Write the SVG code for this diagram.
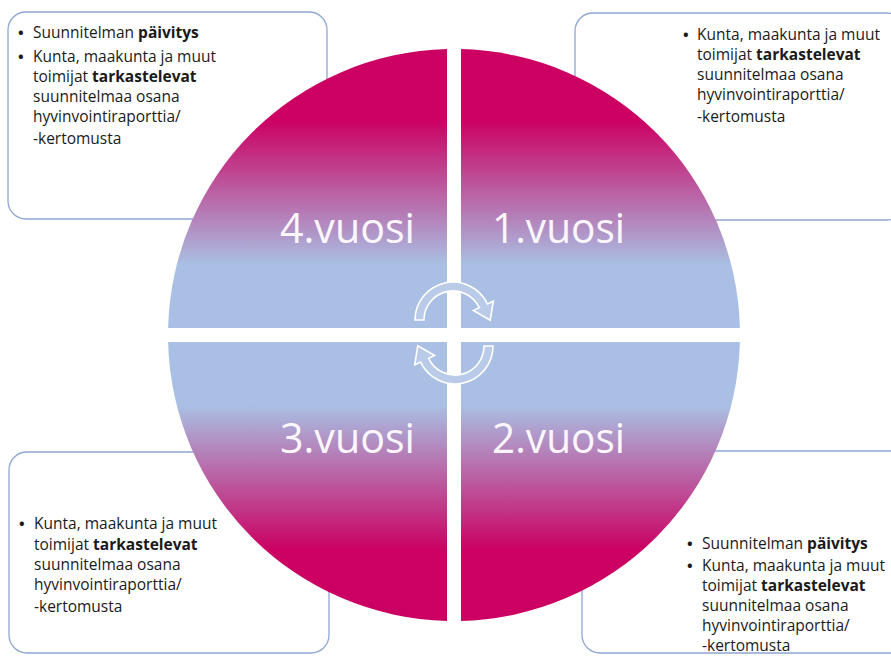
<svg xmlns="http://www.w3.org/2000/svg" width="891" height="656" viewBox="0 0 891 656">
<defs>
<linearGradient id="gTop" gradientUnits="userSpaceOnUse" x1="0" y1="120" x2="0" y2="265">
<stop offset="0" stop-color="#CB0062"/>
<stop offset="1" stop-color="#A9C0E4"/>
</linearGradient>
<linearGradient id="gBot" gradientUnits="userSpaceOnUse" x1="0" y1="405" x2="0" y2="550">
<stop offset="0" stop-color="#A9C0E4"/>
<stop offset="1" stop-color="#CB0062"/>
</linearGradient>
<path id="arrow" d="M415,320 A38,38 0 0 1 487.4,303.9 L493.3,301.2 L490.2,320.3 L473.4,310.5 L479.3,307.7 A29,29 0 0 0 424,320 Z"/>
</defs>
<style>
.box{fill:#FFFFFF;stroke:#8FA7D0;stroke-width:1.3}
.t{font-family:"Open Sans","Liberation Sans",sans-serif;font-size:15.5px;fill:#1A1A1A}
.bl{font-family:"Open Sans","Liberation Sans",sans-serif;font-size:15px;fill:#1A1A1A;font-weight:bold}
.b{font-weight:bold}
.big{font-family:"Open Sans","Liberation Sans",sans-serif;font-size:42px;fill:#FBF6FB}
.arr{fill:#BACBEA;stroke:#FFFFFF;stroke-width:1.6}
</style>
<rect width="891" height="656" fill="#FFFFFF"/>

<g id="box-topleft">
<rect class="box" x="8" y="12" width="319" height="207" rx="18"/>
<text class="bl" x="18" y="38">•</text>
<text class="t" x="33" y="38">Suunnitelman <tspan class="b">päivitys</tspan></text>
<text class="bl" x="18" y="62">•</text>
<text class="t" x="33" y="62">Kunta, maakunta ja muut</text>
<text class="t" x="33" y="82">toimijat <tspan class="b">tarkastelevat</tspan></text>
<text class="t" x="33" y="102">suunnitelmaa osana</text>
<text class="t" x="33" y="122">hyvinvointiraporttia/</text>
<text class="t" x="33" y="144">-kertomusta</text>
</g>

<g id="box-topright">
<rect class="box" x="575" y="13" width="330" height="207" rx="18"/>
<text class="bl" x="683" y="40">•</text>
<text class="t" x="697" y="40">Kunta, maakunta ja muut</text>
<text class="t" x="697" y="60">toimijat <tspan class="b">tarkastelevat</tspan></text>
<text class="t" x="697" y="80">suunnitelmaa osana</text>
<text class="t" x="697" y="100">hyvinvointiraporttia/</text>
<text class="t" x="697" y="122">-kertomusta</text>
</g>

<g id="box-bottomleft">
<rect class="box" x="9" y="452" width="320" height="201" rx="18"/>
<text class="bl" x="19" y="529">•</text>
<text class="t" x="34" y="529">Kunta, maakunta ja muut</text>
<text class="t" x="34" y="550">toimijat <tspan class="b">tarkastelevat</tspan></text>
<text class="t" x="34" y="570">suunnitelmaa osana</text>
<text class="t" x="34" y="590">hyvinvointiraporttia/</text>
<text class="t" x="34" y="612">-kertomusta</text>
</g>

<g id="box-bottomright">
<rect class="box" x="582" y="451" width="330" height="202" rx="18"/>
<text class="bl" x="687" y="549">•</text>
<text class="t" x="702" y="549">Suunnitelman <tspan class="b">päivitys</tspan></text>
<text class="bl" x="687" y="571">•</text>
<text class="t" x="702" y="571">Kunta, maakunta ja muut</text>
<text class="t" x="702" y="591">toimijat <tspan class="b">tarkastelevat</tspan></text>
<text class="t" x="702" y="611">suunnitelmaa osana</text>
<text class="t" x="702" y="631">hyvinvointiraporttia/</text>
<text class="t" x="702" y="651">-kertomusta</text>
</g>

<g id="year4">
<path d="M447,328 L447,49.1 A286,286 0 0 0 168.1,328 Z" fill="url(#gTop)"/>
<text class="big" x="280" y="243" textLength="135" lengthAdjust="spacingAndGlyphs">4.vuosi</text>
</g>
<g id="year1">
<path d="M461,328 L739.9,328 A286,286 0 0 0 461,49.1 Z" fill="url(#gTop)"/>
<text class="big" x="492" y="243" textLength="133" lengthAdjust="spacingAndGlyphs">1.vuosi</text>
</g>
<g id="year3">
<path d="M447,342 L168.1,342 A286,286 0 0 0 447,620.9 Z" fill="url(#gBot)"/>
<text class="big" x="280" y="453" textLength="135" lengthAdjust="spacingAndGlyphs">3.vuosi</text>
</g>
<g id="year2">
<path d="M461,342 L461,620.9 A286,286 0 0 0 739.9,342 Z" fill="url(#gBot)"/>
<text class="big" x="492" y="453" textLength="133" lengthAdjust="spacingAndGlyphs">2.vuosi</text>
</g>

<g id="connectors">
<use href="#arrow" class="arr"/>
<use href="#arrow" class="arr" transform="rotate(180 454 333)"/>
</g>
</svg>
